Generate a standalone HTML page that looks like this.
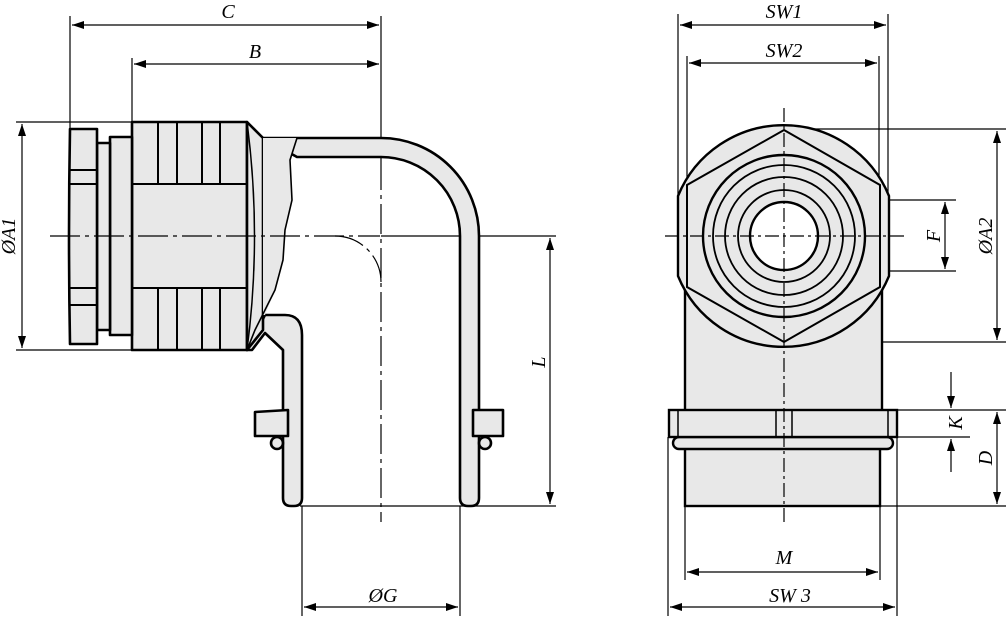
<!DOCTYPE html>
<html><head><meta charset="utf-8"><style>
html,body{margin:0;padding:0;background:#fff}
svg{display:block}
text{font-family:"Liberation Serif",serif;font-style:italic;font-size:20px;fill:#000}
</style></head><body>
<svg width="1008" height="624" viewBox="0 0 1008 624" xmlns="http://www.w3.org/2000/svg">
<defs>
<marker id="a" viewBox="0 0 12 8" refX="12" refY="4" markerWidth="12" markerHeight="8" orient="auto-start-reverse" markerUnits="userSpaceOnUse"><path d="M0,0 L12,4 L0,8z" fill="#000"/></marker>
</defs>
<g stroke="#000" stroke-width="1.2" fill="none">
<line x1="70" y1="16" x2="70" y2="130"/>
<line x1="132" y1="58" x2="132" y2="122"/>
<line x1="381" y1="16" x2="381" y2="160"/>
<line x1="72" y1="25" x2="379" y2="25" marker-start="url(#a)" marker-end="url(#a)"/>
<line x1="134" y1="64" x2="379" y2="64" marker-start="url(#a)" marker-end="url(#a)"/>
<line x1="16" y1="122" x2="132" y2="122"/>
<line x1="16" y1="350" x2="132" y2="350"/>
<line x1="22" y1="124" x2="22" y2="348" marker-start="url(#a)" marker-end="url(#a)"/>
<line x1="300" y1="506" x2="556" y2="506"/>
<line x1="381" y1="236" x2="556" y2="236"/>
<line x1="550" y1="238" x2="550" y2="504" marker-start="url(#a)" marker-end="url(#a)"/>
<line x1="302" y1="506" x2="302" y2="616"/>
<line x1="460" y1="506" x2="460" y2="616"/>
<line x1="304" y1="607" x2="458" y2="607" marker-start="url(#a)" marker-end="url(#a)"/>
<line x1="678" y1="14" x2="678" y2="200"/>
<line x1="888" y1="14" x2="888" y2="200"/>
<line x1="687" y1="56" x2="687" y2="190"/>
<line x1="879" y1="56" x2="879" y2="190"/>
<line x1="680" y1="25" x2="886" y2="25" marker-start="url(#a)" marker-end="url(#a)"/>
<line x1="689" y1="63" x2="877" y2="63" marker-start="url(#a)" marker-end="url(#a)"/>
<line x1="784" y1="129" x2="1006" y2="129"/>
<line x1="784" y1="342" x2="1006" y2="342"/>
<line x1="997" y1="131" x2="997" y2="340" marker-start="url(#a)" marker-end="url(#a)"/>
<line x1="784" y1="200" x2="956" y2="200"/>
<line x1="784" y1="271" x2="956" y2="271"/>
<line x1="945" y1="202" x2="945" y2="269" marker-start="url(#a)" marker-end="url(#a)"/>
<line x1="897" y1="410" x2="1006" y2="410"/>
<line x1="897" y1="437" x2="970" y2="437"/>
<line x1="880" y1="506" x2="1006" y2="506"/>
<line x1="951" y1="372" x2="951" y2="408" marker-end="url(#a)"/>
<line x1="951" y1="472" x2="951" y2="439" marker-end="url(#a)"/>
<line x1="997" y1="412" x2="997" y2="504" marker-start="url(#a)" marker-end="url(#a)"/>
<line x1="668" y1="437" x2="668" y2="616"/>
<line x1="897" y1="437" x2="897" y2="616"/>
<line x1="685" y1="506" x2="685" y2="580"/>
<line x1="880" y1="506" x2="880" y2="580"/>
<line x1="687" y1="572" x2="878" y2="572" marker-start="url(#a)" marker-end="url(#a)"/>
<line x1="670" y1="607" x2="895" y2="607" marker-start="url(#a)" marker-end="url(#a)"/>
</g>
<text x="228" y="18" text-anchor="middle">C</text>
<text x="255" y="58" text-anchor="middle">B</text>
<text transform="translate(15,236) rotate(-90)" text-anchor="middle">ØA1</text>
<text transform="translate(545,362) rotate(-90)" text-anchor="middle">L</text>
<text x="383" y="602" text-anchor="middle">ØG</text>
<text x="784" y="18" text-anchor="middle">SW1</text>
<text x="784" y="57" text-anchor="middle">SW2</text>
<text transform="translate(992,236) rotate(-90)" text-anchor="middle">ØA2</text>
<text transform="translate(940,236) rotate(-90)" text-anchor="middle">F</text>
<text transform="translate(962,423) rotate(-90)" text-anchor="middle">K</text>
<text transform="translate(992,458) rotate(-90)" text-anchor="middle">D</text>
<text x="784" y="564" text-anchor="middle">M</text>
<text x="790" y="602" text-anchor="middle">SW 3</text>

<g stroke="#000" stroke-width="2.6" fill="#e8e8e8" stroke-linejoin="round">
<path d="M263,138 L381,138 A98,98 0 0 1 479,236 L479,498 Q479,506 471,506 L468,506 Q460,506 460,498 L460,236 A79,79 0 0 0 381,157 L297,157 Z"/>
<path d="M247,350 L265,315 L285,315 Q302,315 302,335 L302,498 Q302,506 294,506 L291,506 Q283,506 283,498 L283,350 L265,333 L252,350 Z"/>
<rect x="132" y="122" width="115" height="228"/>
<path d="M247,122 L263,138 L263,330 L247,350 Z"/>
<path d="M263,138 L297,138 L290,160 L292,200 L285,230 L283,260 L275,290 L265,315 L263,315 Z" stroke="none"/>
<rect x="110" y="137" width="22" height="198"/>
<rect x="97" y="143" width="13" height="187"/>
<path d="M70,129 L97,129 L97,344 L70,344 Q68,236 70,129 Z"/>
<path d="M255,412 L288,410 L288,436 L255,436 Z"/>
<circle cx="277" cy="443" r="6"/>
<path d="M473,410 L503,410 L503,436 L473,436 Z"/>
<circle cx="485" cy="443" r="6"/>
</g>
<g stroke="#000" stroke-width="2" fill="none">
<line x1="70" y1="170" x2="97" y2="170"/><line x1="70" y1="184" x2="97" y2="184"/>
<line x1="70" y1="288" x2="97" y2="288"/><line x1="70" y1="305" x2="97" y2="305"/>
<line x1="132" y1="184" x2="247" y2="184"/><line x1="132" y1="288" x2="247" y2="288"/>
<line x1="158" y1="122" x2="158" y2="184"/><line x1="177" y1="122" x2="177" y2="184"/>
<line x1="202" y1="122" x2="202" y2="184"/><line x1="220" y1="122" x2="220" y2="184"/>
<line x1="158" y1="288" x2="158" y2="350"/><line x1="177" y1="288" x2="177" y2="350"/>
<line x1="202" y1="288" x2="202" y2="350"/><line x1="220" y1="288" x2="220" y2="350"/>
<path d="M247,122 Q262,236 247,350" stroke-width="1.5"/>
<path d="M297,138 L290,160 L292,200 L285,230 L283,260 L275,290 L255,330 L247,350" stroke-width="1.6"/>
</g>
<g stroke="#000" stroke-width="1.2" fill="none" stroke-dasharray="30,5,4,5">
<line x1="50" y1="236" x2="380" y2="236"/>
<line x1="381" y1="160" x2="381" y2="522"/>
<path d="M335,236 A46,46 0 0 1 381,282"/>
</g>

<g stroke="#000" stroke-width="2.4" fill="#e8e8e8">
<rect x="685" y="236" width="197" height="176"/>
<path d="M678,196 A114,114 0 0 1 889,196 L889,276 A114,114 0 0 1 678,276 Z"/>
<polygon points="784,130 880,185 880,287 784,342 687,287 687,185" stroke-width="2"/>
<circle cx="784" cy="236" r="81"/>
<circle cx="784" cy="236" r="71" stroke-width="1.8"/>
<circle cx="784" cy="236" r="59" stroke-width="1.8"/>
<circle cx="784" cy="236" r="46" stroke-width="1.8"/>
<circle cx="784" cy="236" r="34" fill="#fff"/>
<rect x="685" y="448" width="195" height="58"/>
<rect x="673" y="437" width="220" height="12" rx="6"/>
<rect x="669" y="410" width="228" height="27"/>
</g>
<g stroke="#000" stroke-width="1.5" fill="none">
<line x1="776" y1="410" x2="776" y2="437"/><line x1="792" y1="410" x2="792" y2="437"/>
<line x1="678" y1="410" x2="678" y2="437"/><line x1="888" y1="410" x2="888" y2="437"/>
</g>
<g stroke="#000" stroke-width="1.2" stroke-dasharray="14,4,3,4">
<line x1="665" y1="236" x2="905" y2="236"/>
<line x1="784" y1="108" x2="784" y2="524"/>
</g>
</svg>
</body></html>
